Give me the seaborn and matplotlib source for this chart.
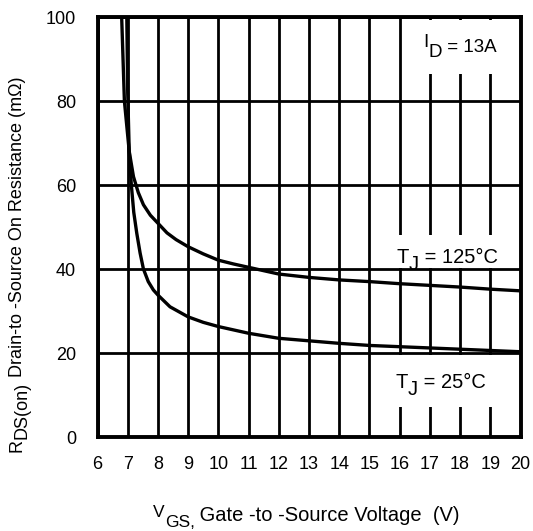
import matplotlib
matplotlib.use("Agg")
import matplotlib.pyplot as plt
import pandas as pd
import seaborn as sns
from matplotlib.patches import Rectangle

# ---- data ----
vgs_25c = [6.97, 7.00, 7.05, 7.12, 7.20, 7.30, 7.41, 7.52, 7.68, 7.85, 8.00, 8.40,
           9.00, 9.50, 10.0, 11.0, 12.0, 13.0, 14.0, 15.0, 16.0, 17.0, 18.0, 19.0, 20.0]
rds_25c = [100, 82, 68, 60, 53.5, 48.5, 43.8, 40.0, 37.0, 35.0, 33.8, 31.0,
           28.6, 27.3, 26.3, 24.7, 23.5, 22.9, 22.3, 21.8, 21.5, 21.2, 20.9, 20.6, 20.3]

vgs_125c = [6.80, 6.89, 7.05, 7.19, 7.35, 7.52, 7.75, 8.00, 8.30, 8.60, 9.00, 9.50,
            10.0, 10.5, 11.0, 12.0, 13.0, 14.0, 15.0, 16.0, 17.0, 18.0, 19.0, 20.0]
rds_125c = [100, 80, 68, 62, 58.2, 55.3, 52.8, 50.9, 48.6, 47.0, 45.3, 43.6,
            42.1, 41.2, 40.4, 38.8, 38.0, 37.4, 37.0, 36.5, 36.1, 35.7, 35.2, 34.8]

x_ticks = list(range(6, 21))
y_ticks = [0, 20, 40, 60, 80, 100]

# ---- style ----
sns.set_theme(style="white")
plt.rcParams['font.family'] = ['Liberation Sans', 'DejaVu Sans']

W, H = 533, 531
fig = plt.figure(figsize=(W / 100, H / 100), dpi=100)
L, R, T, B = 97.5, 520.5, 17, 437
ax = fig.add_axes([L / W, 1 - B / H, (R - L) / W, (B - T) / H])

df = pd.concat([
    pd.DataFrame({'vgs': vgs_25c, 'rds': rds_25c, 'tj': '25°C'}),
    pd.DataFrame({'vgs': vgs_125c, 'rds': rds_125c, 'tj': '125°C'}),
], ignore_index=True)

sns.lineplot(data=df, x='vgs', y='rds', hue='tj',
             palette={'25°C': 'black', '125°C': 'black'},
             estimator=None, sort=False, linewidth=2.4, legend=False,
             ax=ax, zorder=2)

ax.set_xlim(6, 20)
ax.set_ylim(0, 100)
ax.set_xticks(x_ticks)
ax.set_yticks(y_ticks)
ax.set_xticklabels([str(v) for v in x_ticks])
ax.set_yticklabels([str(v) for v in y_ticks])
ax.set_axisbelow(True)
ax.grid(True, color='black', linewidth=2.0)
for s in ax.spines.values():
    s.set_visible(True)
    s.set_color('black')
    s.set_linewidth(2.8)
ax.tick_params(axis='both', length=0, labelsize=13, colors='black')
ax.tick_params(axis='x', pad=14)
ax.tick_params(axis='y', pad=15.5)
ax.set_xlabel('')
ax.set_ylabel('')

# white backgrounds behind the annotations
for (x0, y0, x1, y1) in [(16.3, 86.4, 19.92, 99.3),
                         (15.62, 40.2, 19.5, 48.1),
                         (15.62, 7.1, 19.5, 19.5)]:
    ax.add_patch(Rectangle((x0, y0), x1 - x0, y1 - y0, facecolor='white',
                           edgecolor='none', zorder=1))


def chain(first_xy, coords, pieces):
    """pieces: list of (text, downward baseline shift in points, size)."""
    prev = None
    prev_shift = 0
    prev_size = None
    for i, (txt, shift, size) in enumerate(pieces):
        if i == 0:
            prev = ax.annotate(txt, xy=first_xy, xycoords=coords,
                               ha='left', va='baseline', fontsize=size,
                               color='black', annotation_clip=False, zorder=4)
        else:
            # bottom of bbox = baseline - descent (descent ~0.21 em)
            d = (shift - prev_shift) + 0.21 * (size - prev_size)
            prev = ax.annotate(txt, xy=(1, 0), xycoords=prev, xytext=(0, -d),
                               textcoords='offset points', ha='left', va='bottom',
                               fontsize=size, color='black',
                               annotation_clip=False, zorder=4)
        prev_shift = shift
        prev_size = size


# annotations
chain((16.78, 92.9), 'data', [("I", 0, 13.5), ("D", 7, 13.5), (" = 13A", 3.6, 13.5)])
chain((15.90, 41.4), 'data', [("T", 0, 14.5), ("J", 5, 14.5), (" = 125°C", 0, 14.5)])
chain((15.85, 11.7), 'data', [("T", 0, 14.5), ("J", 5, 14.5), (" = 25°C", 0, 14.5)])

# x axis label
chain((153, H - 517), 'figure pixels',
      [("V", 0, 12.5), ("GS,", 7.2, 12.5), (" Gate -to -Source Voltage  (V)", 2.9, 14.5)])

# rotated y label
r = ax.annotate("R", xy=(8.6, H - 452), xycoords='figure pixels',
                ha='left', va='bottom', rotation=90, fontsize=13,
                color='black', annotation_clip=False)
sub = ax.annotate("DS(on)", xy=(0, 1), xycoords=r, xytext=(3.6, 0),
                  textcoords='offset points', ha='left', va='bottom',
                  rotation=90, fontsize=13, color='black', annotation_clip=False)
ax.annotate(" Drain-to -Source On Resistance (mΩ)", xy=(0, 1), xycoords=sub,
            xytext=(-3.6, 0), textcoords='offset points', ha='left',
            va='bottom', rotation=90, fontsize=13, color='black',
            annotation_clip=False)

fig.savefig("out.png", dpi=100)
